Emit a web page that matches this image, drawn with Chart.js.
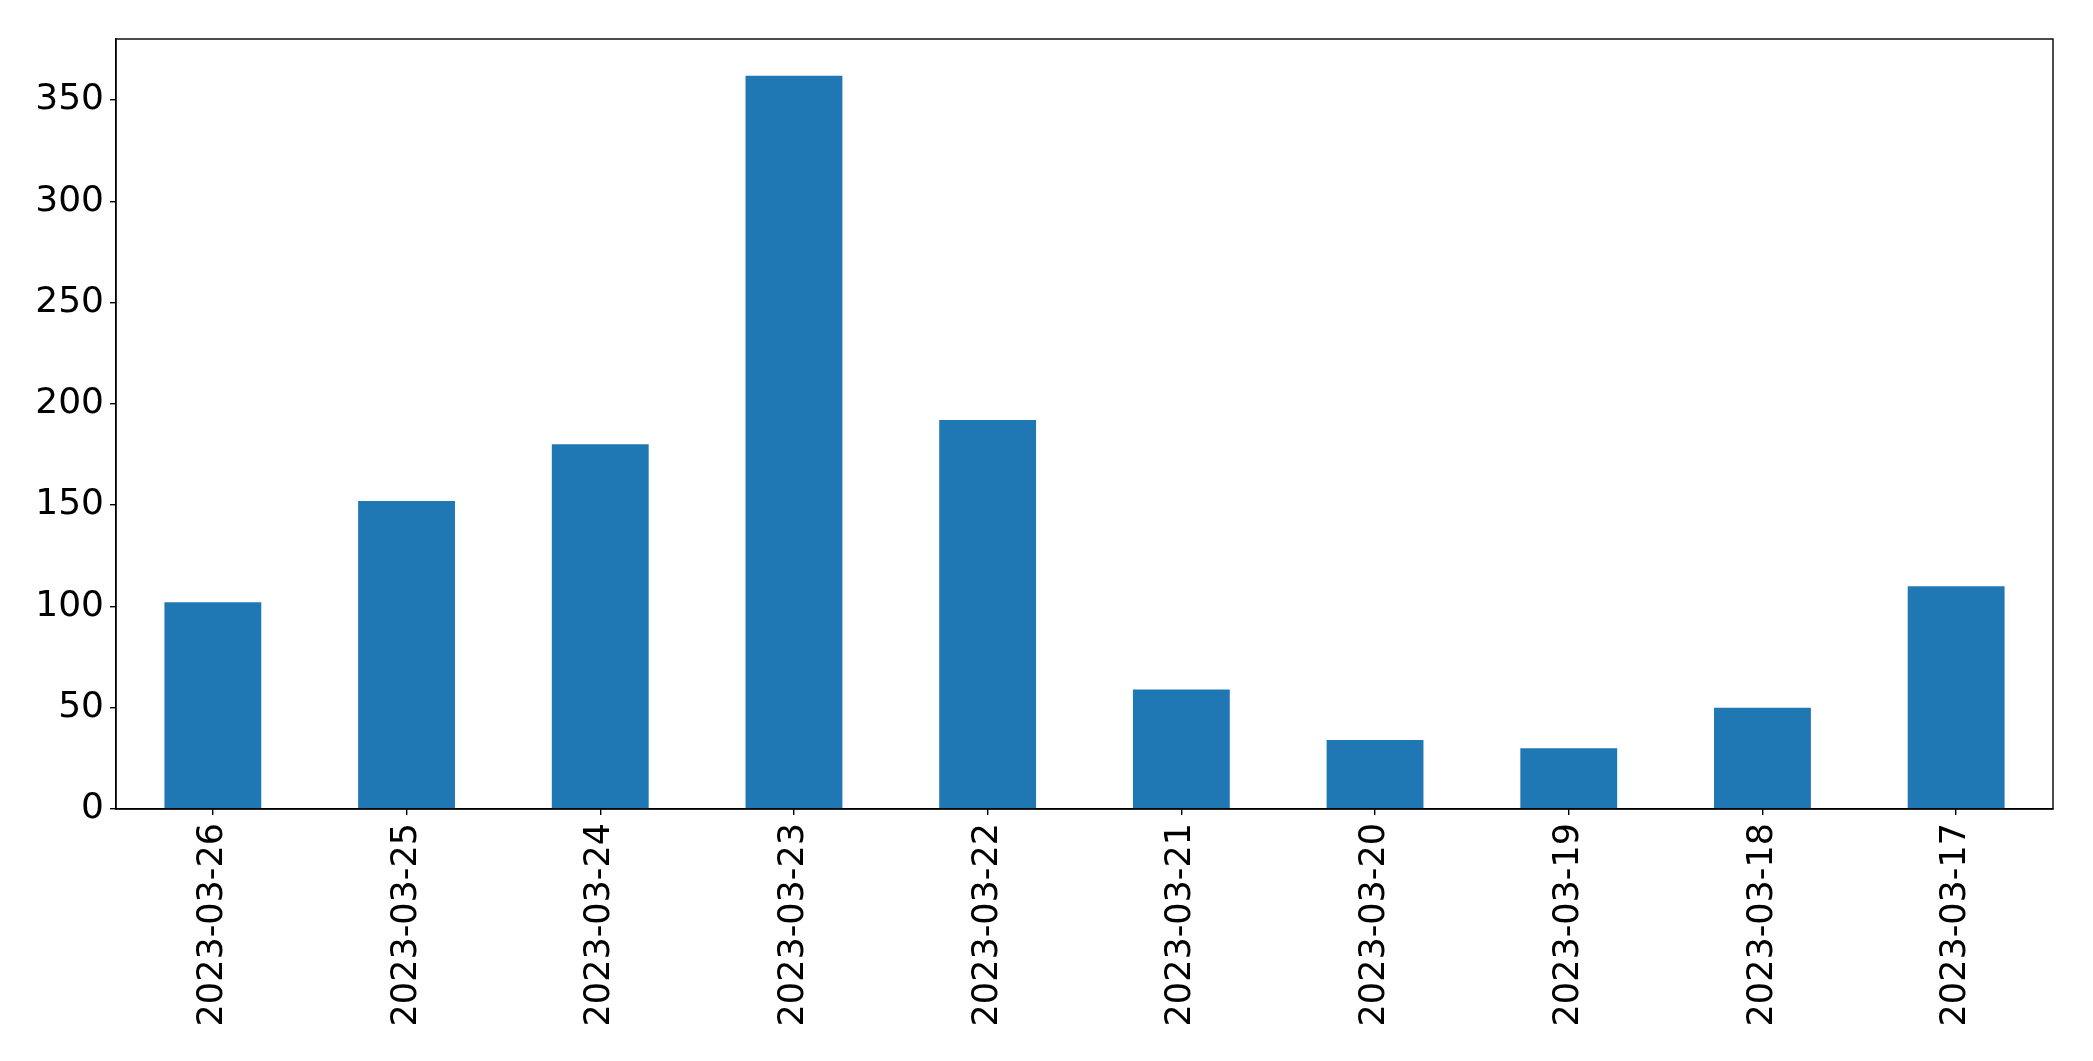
<!DOCTYPE html>
<html>
<head>
<meta charset="utf-8">
<script src="https://cdn.jsdelivr.net/npm/chart.js@4"></script>
<style>
  html, body { margin: 0; padding: 0; background: #fff; }
  canvas { display: block; }
</style>
</head>
<body>
<canvas id="c" width="2093" height="1061" style="width:2093px;height:1061px"></canvas>
<script>
const categories = ["2023-03-26","2023-03-25","2023-03-24","2023-03-23","2023-03-22","2023-03-21","2023-03-20","2023-03-19","2023-03-18","2023-03-17"];
const values = [102, 152, 180, 362, 192, 59, 34, 30, 50, 110];
const yTicks = [0, 50, 100, 150, 200, 250, 300, 350];

const frame = {
  id: 'frame',
  afterDraw(chart) {
    const a = chart.chartArea, ctx = chart.ctx;
    ctx.save();
    ctx.strokeStyle = '#000';
    ctx.lineWidth = 1.4;
    ctx.strokeRect(a.left, a.top, a.right - a.left, a.bottom - a.top);
    ctx.restore();
  }
};

new Chart(document.getElementById('c'), {
  type: 'bar',
  data: {
    labels: categories,
    datasets: [{
      data: values,
      backgroundColor: '#1f77b4',
      borderWidth: 0,
      categoryPercentage: 0.5,
      barPercentage: 1.0
    }]
  },
  options: {
    responsive: false,
    devicePixelRatio: 1,
    animation: false,
    layout: { padding: { top: 39, right: 40, left: 0, bottom: 0 } },
    plugins: { legend: { display: false }, tooltip: { enabled: false } },
    scales: {
      x: {
        offset: true,
        grid: { display: true, offset: false, drawOnChartArea: false, drawTicks: true, tickLength: 6, color: '#000', lineWidth: 1.4 },
        border: { display: true, color: '#000', width: 1.4 },
        ticks: { color: '#000', font: { family: 'DejaVu Sans', size: 35 }, minRotation: 90, maxRotation: 90, padding: 8, autoSkip: false },
        afterFit(scale) { scale.height = 252; }
      },
      y: {
        min: 0,
        max: 380.1,
        afterBuildTicks(scale) { scale.ticks = yTicks.map(v => ({ value: v })); },
        grid: { display: true, drawOnChartArea: false, drawTicks: true, tickLength: 6, color: '#000', lineWidth: 1.4 },
        border: { display: true, color: '#000', width: 1.4 },
        ticks: { color: '#000', font: { family: 'DejaVu Sans', size: 36 }, padding: 6 },
        afterFit(scale) { scale.width = 116; }
      }
    }
  },
  plugins: [frame]
});
</script>
</body>
</html>
